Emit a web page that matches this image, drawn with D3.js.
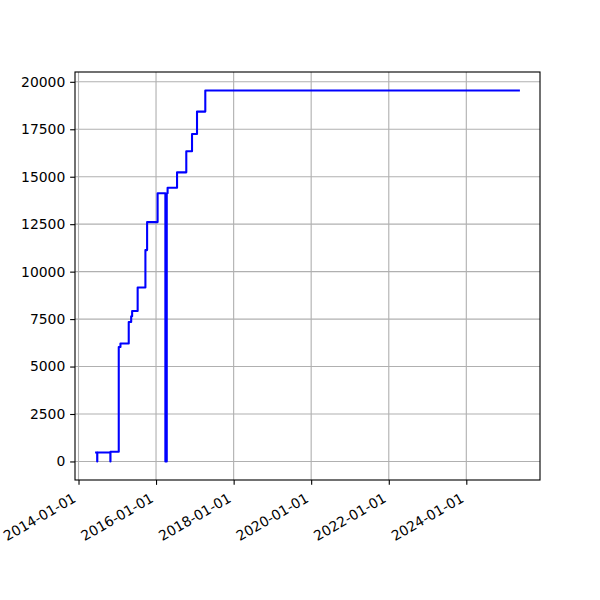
<!DOCTYPE html>
<html>
<head>
<meta charset="utf-8">
<script src="https://cdn.jsdelivr.net/npm/d3@7"></script>
<style>
html,body{margin:0;padding:0;background:#fff;}
svg{display:block;}
text{font-family:"DejaVu Sans",sans-serif;}
</style>
</head>
<body>
<svg id="chart" width="600" height="600"></svg>
<script>
const dates = ["2014-06-16","2014-06-26","2014-06-27","2014-10-28","2014-10-29","2015-01-15","2015-01-31","2015-04-19","2015-05-12","2015-05-21","2015-07-12","2015-09-23","2015-10-09","2016-01-16","2016-03-29","2016-04-11","2016-04-19","2016-07-17","2016-10-12","2016-12-05","2017-01-21","2017-04-09","2025-05-10"];
const values = [470,0,470,0,510,6030,6210,7350,7650,7930,9165,11135,12610,14125,0,14125,14420,15230,16340,17255,18430,19540,19540];
const yTicks = [0,2500,5000,7500,10000,12500,15000,17500,20000];
const xTickLabels = ["2014-01-01","2016-01-01","2018-01-01","2020-01-01","2022-01-01","2024-01-01"];

(function(){
const parse = d3.utcParse("%Y-%m-%d");
const data = dates.map((d,i)=>({date:parse(d), value:values[i]}));

const L=75, R=540, T=72, B=480;
const svg = d3.select("#chart");

const xExt = d3.extent(data, d=>d.date);
const xSpan = xExt[1]-xExt[0];
const x = d3.scaleUtc()
  .domain([new Date(+xExt[0]-0.05*xSpan), new Date(+xExt[1]+0.05*xSpan)])
  .range([L,R]);
const yMax = d3.max(values), yMin = 0;
const ySpan = yMax-yMin;
const y = d3.scaleLinear()
  .domain([yMin-0.05*ySpan, yMax+0.05*ySpan])
  .range([B, T]);

const xTickDates = xTickLabels.map(parse);
const lw = 0.8*1.389;

const g = svg.append("g");
g.selectAll(".gx").data(xTickDates).enter().append("line")
  .attr("x1",d=>x(d)).attr("x2",d=>x(d)).attr("y1",T).attr("y2",B)
  .attr("stroke","#b0b0b0").attr("stroke-width",lw);
g.selectAll(".gy").data(yTicks).enter().append("line")
  .attr("y1",d=>y(d)).attr("y2",d=>y(d)).attr("x1",L).attr("x2",R)
  .attr("stroke","#b0b0b0").attr("stroke-width",lw);

const line = d3.line().x(d=>x(d.date)).y(d=>y(d.value)).curve(d3.curveStepAfter);
svg.append("path").datum(data).attr("d",line)
  .attr("fill","none").attr("stroke","#0000ff").attr("stroke-width",1.5*1.389)
  .attr("stroke-linejoin","round").attr("stroke-linecap","square");

const xAxis = d3.axisBottom(x).tickValues(xTickDates).tickSize(4.86).tickPadding(4.86)
  .tickFormat(d3.utcFormat("%Y-%m-%d"));
const gx = svg.append("g").attr("transform",`translate(0,${B})`).call(xAxis);
gx.select(".domain").remove();
gx.selectAll(".tick line").attr("stroke","#000").attr("stroke-width",lw);
gx.selectAll(".tick text")
  .attr("font-size","13.9px").attr("fill","#000")
  .attr("text-anchor","end")
  .attr("dy",null).attr("y",0)
  .attr("transform","translate(-2,21) rotate(-30)");

const yAxis = d3.axisLeft(y).tickValues(yTicks).tickSize(4.86).tickPadding(4.86).tickFormat(d3.format("d"));
const gy = svg.append("g").attr("transform",`translate(${L},0)`).call(yAxis);
gy.select(".domain").remove();
gy.selectAll(".tick line").attr("stroke","#000").attr("stroke-width",lw);
gy.selectAll(".tick text").attr("font-size","13.9px").attr("fill","#000");

svg.append("rect").attr("x",L).attr("y",T).attr("width",R-L).attr("height",B-T)
  .attr("fill","none").attr("stroke","#000").attr("stroke-width",lw);
})();
</script>
</body>
</html>
